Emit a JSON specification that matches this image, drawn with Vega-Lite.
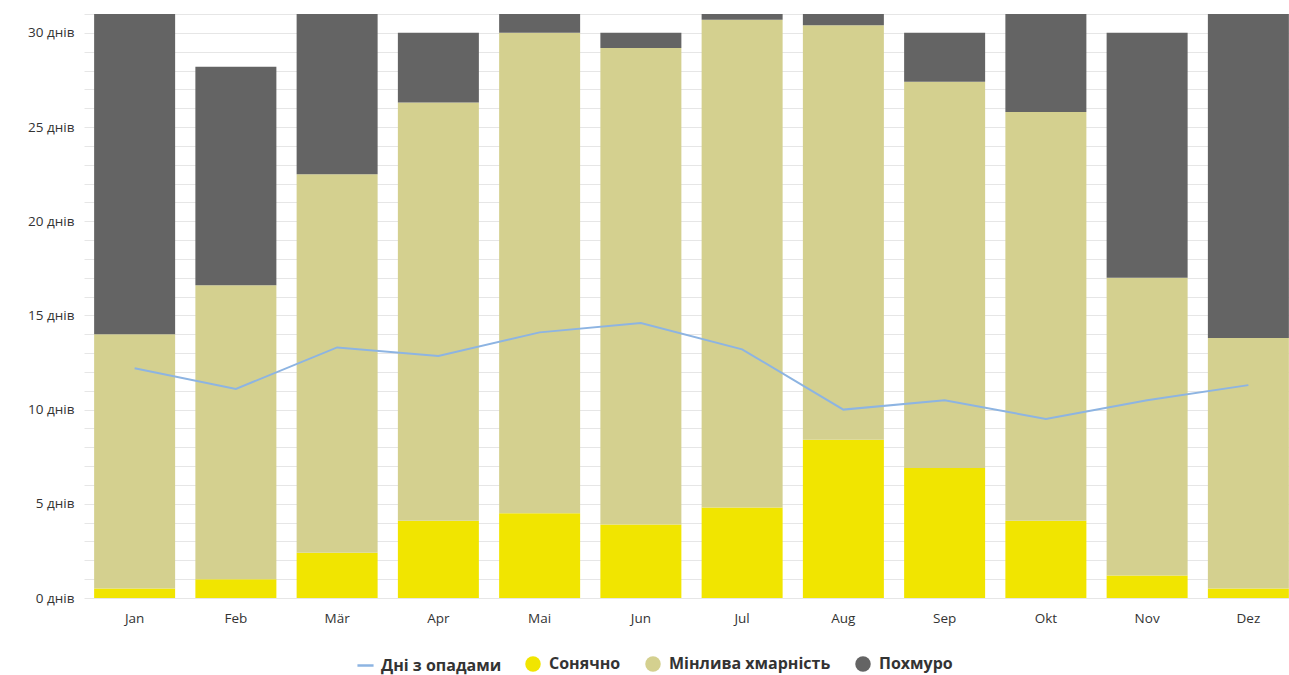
{
  "$schema": "https://vega.github.io/schema/vega-lite/v6.json",
  "autosize": {"type": "none"},
  "padding": {"left": 84, "top": 14, "right": 0, "bottom": 80},
  "width": 1215,
  "height": 584,
  "background": "white",
  "config": {
    "view": {"stroke": null},
    "font": "Open Sans",
    "axis": {"labelFont": "Open Sans", "labelFontSize": 13.5, "labelColor": "#333333", "ticks": false, "domain": false, "title": null, "labelOverlap": false},
    "legend": {"labelFont": "Open Sans", "labelFontSize": 16, "labelFontWeight": "bold", "labelColor": "#333333", "labelLimit": 400, "padding": 0, "title": null}
  },
  "datasets": {
    "sky": [
      {"month": "Jan", "type": "Сонячно", "rank": 1, "days": 0.5},
      {"month": "Jan", "type": "Мінлива хмарність", "rank": 2, "days": 13.5},
      {"month": "Jan", "type": "Похмуро", "rank": 3, "days": 17.0},
      {"month": "Feb", "type": "Сонячно", "rank": 1, "days": 1.0},
      {"month": "Feb", "type": "Мінлива хмарність", "rank": 2, "days": 15.6},
      {"month": "Feb", "type": "Похмуро", "rank": 3, "days": 11.6},
      {"month": "Mär", "type": "Сонячно", "rank": 1, "days": 2.4},
      {"month": "Mär", "type": "Мінлива хмарність", "rank": 2, "days": 20.1},
      {"month": "Mär", "type": "Похмуро", "rank": 3, "days": 8.5},
      {"month": "Apr", "type": "Сонячно", "rank": 1, "days": 4.1},
      {"month": "Apr", "type": "Мінлива хмарність", "rank": 2, "days": 22.2},
      {"month": "Apr", "type": "Похмуро", "rank": 3, "days": 3.7},
      {"month": "Mai", "type": "Сонячно", "rank": 1, "days": 4.5},
      {"month": "Mai", "type": "Мінлива хмарність", "rank": 2, "days": 25.5},
      {"month": "Mai", "type": "Похмуро", "rank": 3, "days": 1.0},
      {"month": "Jun", "type": "Сонячно", "rank": 1, "days": 3.9},
      {"month": "Jun", "type": "Мінлива хмарність", "rank": 2, "days": 25.3},
      {"month": "Jun", "type": "Похмуро", "rank": 3, "days": 0.8},
      {"month": "Jul", "type": "Сонячно", "rank": 1, "days": 4.8},
      {"month": "Jul", "type": "Мінлива хмарність", "rank": 2, "days": 25.9},
      {"month": "Jul", "type": "Похмуро", "rank": 3, "days": 0.3},
      {"month": "Aug", "type": "Сонячно", "rank": 1, "days": 8.4},
      {"month": "Aug", "type": "Мінлива хмарність", "rank": 2, "days": 22.0},
      {"month": "Aug", "type": "Похмуро", "rank": 3, "days": 0.6},
      {"month": "Sep", "type": "Сонячно", "rank": 1, "days": 6.9},
      {"month": "Sep", "type": "Мінлива хмарність", "rank": 2, "days": 20.5},
      {"month": "Sep", "type": "Похмуро", "rank": 3, "days": 2.6},
      {"month": "Okt", "type": "Сонячно", "rank": 1, "days": 4.1},
      {"month": "Okt", "type": "Мінлива хмарність", "rank": 2, "days": 21.7},
      {"month": "Okt", "type": "Похмуро", "rank": 3, "days": 5.2},
      {"month": "Nov", "type": "Сонячно", "rank": 1, "days": 1.2},
      {"month": "Nov", "type": "Мінлива хмарність", "rank": 2, "days": 15.8},
      {"month": "Nov", "type": "Похмуро", "rank": 3, "days": 13.0},
      {"month": "Dez", "type": "Сонячно", "rank": 1, "days": 0.5},
      {"month": "Dez", "type": "Мінлива хмарність", "rank": 2, "days": 13.3},
      {"month": "Dez", "type": "Похмуро", "rank": 3, "days": 17.2}
    ],
    "rain": [
      {"month": "Jan", "series": "Дні з опадами", "days": 12.2},
      {"month": "Feb", "series": "Дні з опадами", "days": 11.1},
      {"month": "Mär", "series": "Дні з опадами", "days": 13.3},
      {"month": "Apr", "series": "Дні з опадами", "days": 12.85},
      {"month": "Mai", "series": "Дні з опадами", "days": 14.1},
      {"month": "Jun", "series": "Дні з опадами", "days": 14.6},
      {"month": "Jul", "series": "Дні з опадами", "days": 13.2},
      {"month": "Aug", "series": "Дні з опадами", "days": 10.0},
      {"month": "Sep", "series": "Дні з опадами", "days": 10.5},
      {"month": "Okt", "series": "Дні з опадами", "days": 9.5},
      {"month": "Nov", "series": "Дні з опадами", "days": 10.5},
      {"month": "Dez", "series": "Дні з опадами", "days": 11.3}
    ]
  },
  "encoding": {
    "x": {
      "field": "month", "type": "nominal",
      "sort": ["Jan", "Feb", "Mär", "Apr", "Mai", "Jun", "Jul", "Aug", "Sep", "Okt", "Nov", "Dez"],
      "scale": {"paddingInner": 0.2, "paddingOuter": 0.1},
      "axis": {"labelAngle": 0, "labelPadding": 13, "grid": false}
    }
  },
  "layer": [
    {
      "data": {"name": "sky"},
      "mark": {"type": "bar"},
      "encoding": {
        "y": {
          "field": "days", "type": "quantitative", "stack": "zero",
          "scale": {"domain": [0, 31], "nice": false},
          "axis": {
            "values": [0,1,2,3,4,5,6,7,8,9,10,11,12,13,14,15,16,17,18,19,20,21,22,23,24,25,26,27,28,29,30,31],
            "labelExpr": "datum.value % 5 === 0 ? datum.value + ' днів' : ''",
            "gridColor": "#e6e6e6", "gridWidth": 1, "labelPadding": 10
          }
        },
        "order": {"field": "rank", "type": "quantitative", "sort": "ascending"},
        "fill": {
          "field": "type", "type": "nominal",
          "scale": {"domain": ["Сонячно", "Мінлива хмарність", "Похмуро"], "range": ["#f1e500", "#d4d08f", "#646464"]},
          "legend": {"orient": "none", "direction": "horizontal", "legendX": 441, "legendY": 642, "symbolType": "circle", "symbolSize": 240, "symbolStrokeWidth": 0, "symbolOpacity": 1, "labelOffset": 8, "columnPadding": 24}
        }
      }
    },
    {
      "data": {"name": "rain"},
      "mark": {"type": "line", "strokeWidth": 2},
      "encoding": {
        "y": {
          "field": "days", "type": "quantitative",
          "scale": {"domain": [0, 31], "nice": false},
          "axis": {
            "values": [0,1,2,3,4,5,6,7,8,9,10,11,12,13,14,15,16,17,18,19,20,21,22,23,24,25,26,27,28,29,30,31],
            "labelExpr": "datum.value % 5 === 0 ? datum.value + ' днів' : ''",
            "gridColor": "#e6e6e6", "gridWidth": 1, "labelPadding": 10
          }
        },
        "stroke": {
          "field": "series", "type": "nominal",
          "scale": {"range": ["#8db4e2"]},
          "legend": {"orient": "none", "direction": "horizontal", "legendX": 272, "legendY": 642, "symbolType": "stroke", "symbolSize": 260, "symbolStrokeWidth": 2.5, "labelOffset": 6}
        }
      }
    }
  ]
}
